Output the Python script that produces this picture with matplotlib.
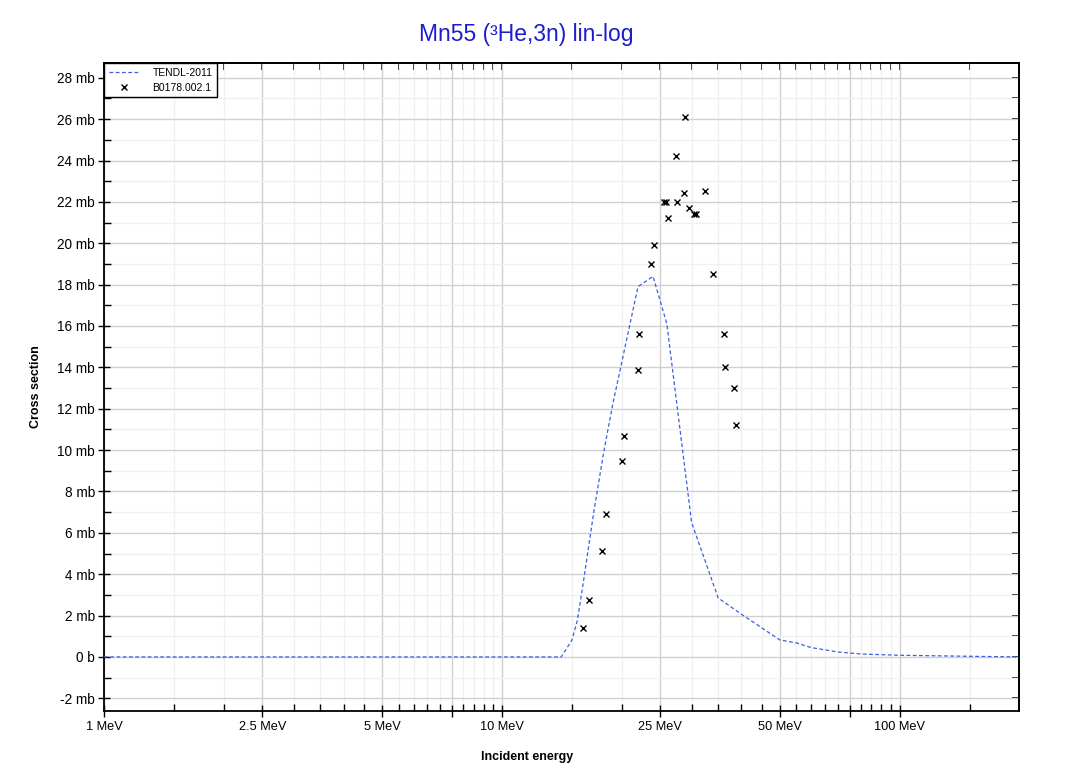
import numpy as np
import matplotlib
matplotlib.use("Agg")
import matplotlib.pyplot as plt
from matplotlib.ticker import FixedLocator, FuncFormatter, NullFormatter

plt.rcParams['font.family'] = ['Liberation Sans', 'DejaVu Sans']

# TENDL-2011 evaluation (MeV, mb)
tendl_e = [1.0, 14.1, 15.0, 15.5, 16.0, 17.0, 18.0, 19.0, 20.0, 22.0, 24.0, 26.0,
           30.0, 35.0, 40.0, 50.0, 55.0, 60.0, 70.0, 80.0, 100.0, 150.0, 200.0]
tendl_xs = [0.0, 0.0, 0.8, 1.8, 3.5, 6.9, 9.8, 12.2, 14.2, 17.9, 18.4, 16.1,
            6.5, 2.85, 2.07, 0.82, 0.68, 0.45, 0.24, 0.14, 0.08, 0.03, 0.0]

# EXFOR B0178.002.1 (MeV, mb)
exp_e = [15.99, 16.61, 17.88, 18.3, 20.0, 20.3, 22.0, 22.19, 23.78, 24.12,
         25.6, 25.9, 26.2, 27.4, 27.6, 28.63, 28.96, 29.6, 30.5, 30.8,
         32.4, 33.9, 36.2, 36.3, 38.4, 38.7]
exp_xs = [1.40, 2.74, 5.12, 6.91, 9.47, 10.68, 13.89, 15.6, 19.0, 19.91,
          22.0, 22.0, 21.22, 24.2, 22.0, 22.41, 26.11, 21.72, 21.41, 21.41,
          22.51, 18.51, 15.6, 14.0, 12.99, 11.2]

x_major = [1, 2.5, 5, 7.5, 10, 25, 50, 75, 100]
x_labels = {1: "1 MeV", 2.5: "2.5 MeV", 5: "5 MeV", 10: "10 MeV",
            25: "25 MeV", 50: "50 MeV", 100: "100 MeV"}
x_minor = [1.5, 2, 3, 3.5, 4, 4.5, 5.5, 6, 6.5, 7, 8, 8.5, 9, 9.5,
           15, 20, 30, 35, 40, 45, 55, 60, 65, 70, 80, 85, 90, 95, 150]
y_major = list(range(-2, 29, 2))
y_minor = list(range(-1, 29, 2))

fig = plt.figure(figsize=(10.67, 7.73), dpi=100)
ax = fig.add_axes([0.0975, 0.0806, 0.8578, 0.8375])

ax.plot(tendl_e, tendl_xs, color='#3a5fe0', lw=0.9, ls=(0, (3, 2)),
        label='TENDL-2011', zorder=3)
ax.plot(exp_e, exp_xs, ls='none', marker='x', color='black', ms=3.8, mew=1.0,
        label='B0178.002.1', zorder=4)

ax.set_xscale('log')
ax.set_xlim(1, 200)
ax.set_ylim(-2.6, 28.7)

ax.xaxis.set_major_locator(FixedLocator(x_major))
ax.xaxis.set_minor_locator(FixedLocator(x_minor))
ax.xaxis.set_major_formatter(FuncFormatter(lambda v, p: x_labels.get(round(v, 3), "")))
ax.xaxis.set_minor_formatter(NullFormatter())
ax.yaxis.set_major_locator(FixedLocator(y_major))
ax.yaxis.set_minor_locator(FixedLocator(y_minor))
ax.yaxis.set_major_formatter(FuncFormatter(lambda v, p: "0 b" if abs(v) < 1e-9 else "%d mb" % round(v)))

ax.grid(True, which='major', color='#d0d0d0', lw=1.0, zorder=0)
ax.grid(True, which='minor', color='#f0f0f0', lw=1.0, zorder=0)
ax.set_axisbelow(True)

ax.tick_params(which='major', direction='inout', length=9, width=1,
               top=False, right=False, colors='black')
ax.tick_params(which='minor', direction='in', length=5, width=1, top=False, right=False)
ax.tick_params(axis='x', which='major', labelsize=9.2, pad=3)
ax.tick_params(axis='y', which='major', labelsize=9.8, pad=2)
for s in ax.spines.values():
    s.set_linewidth(1.3)
    s.set_color('black')

# inward ticks on top and right edges
tx = ax.secondary_xaxis('top')
tx.set_xscale('log')
tx.xaxis.set_major_locator(FixedLocator(x_major))
tx.xaxis.set_minor_locator(FixedLocator(x_minor))
tx.xaxis.set_major_formatter(NullFormatter())
tx.xaxis.set_minor_formatter(NullFormatter())
tx.tick_params(which='both', direction='in', length=5, width=1.2, color='black')
ry = ax.secondary_yaxis('right')
ry.yaxis.set_major_locator(FixedLocator(y_major))
ry.yaxis.set_minor_locator(FixedLocator(y_minor))
ry.yaxis.set_major_formatter(NullFormatter())
ry.tick_params(which='both', direction='in', length=5, width=1.2, color='black')
for sec in (tx, ry):
    for s in sec.spines.values():
        s.set_linewidth(1.3)
        s.set_color('black')

leg = ax.legend(loc='upper left', fontsize=7.5, frameon=True, fancybox=False,
                edgecolor='black', borderaxespad=0.0, handlelength=3.0,
                borderpad=0.45, labelspacing=0.45, handletextpad=1.2)
leg.get_frame().set_linewidth(1.0)
leg.get_frame().set_alpha(1)
leg.set_zorder(10)

fig.text(0.493, 0.955, "Mn55 (³He,3n) lin-log", ha='center', va='center',
         fontsize=16.5, color='#1c1cd0')
fig.text(0.494, 0.021, "Incident energy", ha='center', va='center',
         fontsize=9, fontweight='bold')
fig.text(0.034, 0.5, "Cross section", ha='center', va='center',
         fontsize=9, fontweight='bold', rotation=90)

fig.savefig("out.png", dpi=100, facecolor='white')
